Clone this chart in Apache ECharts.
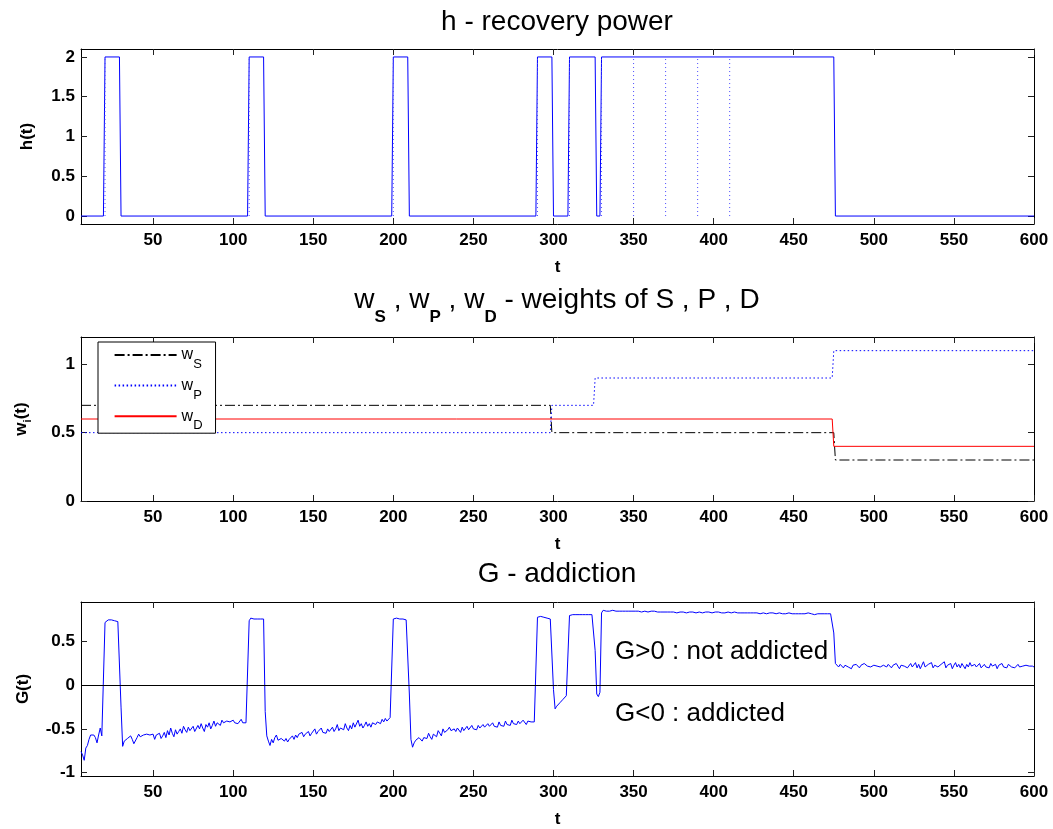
<!DOCTYPE html>
<html><head><meta charset="utf-8">
<script src="https://cdn.jsdelivr.net/npm/echarts@6/dist/echarts.min.js"></script>
<style>html,body{margin:0;padding:0;background:#fff}#c{width:1053px;height:829px}</style>
</head><body><div id="c"></div>
<script>
// ---------- data ----------
const xTicks = [50,100,150,200,250,300,350,400,450,500,550,600];
const hTicks = [0,0.5,1,1.5,2];
const wTicks = [0,0.5,1];
const gTicks = [-1,-0.5,0,0.5];

// h(t) recovery power (step points)
const hT = [5,19,20,29,30,109,110,119,120,199,200,209,210,289,290,299,300,309,310,326,327,329,330,475,476,600];
const hV = [0,0,2,2,0,0,2,2,0,0,2,2,0,0,2,2,0,0,2,2,0,0,2,2,0,0];
// dotted event markers
const eventT = [20,110,200,290,310,330,350,370,390,410];
const eventLow = 0, eventHigh = 2;

// weights
const wsT = [5,298,299,475,476,600];
const wsV = [0.7,0.7,0.5,0.5,0.3,0.3];
const wpT = [5,298,299,325,326,474,475,600];
const wpV = [0.5,0.5,0.7,0.7,0.9,0.9,1.1,1.1];
const wdT = [5,474,475,600];
const wdV = [0.6,0.6,0.4,0.4];

// G(t) addiction, one value per t = 5..600
const gStart = 5;
const gV = [
 -0.76,-0.80,-0.86,-0.72,-0.69,                               // 5-9
 -0.62,-0.57,-0.58,-0.57,-0.60,-0.66,-0.57,-0.49,-0.58,-0.56, // 10
 0.72,0.74,0.75,0.75,0.75,0.75,0.74,0.74,0.73,0.73,           // 20
 -0.25,-0.70,-0.64,-0.66,-0.61,-0.63,-0.58,-0.62,-0.67,-0.69, // 30
 -0.60,-0.56,-0.59,-0.57,-0.57,-0.58,-0.56,-0.57,-0.57,-0.58, // 40
 -0.56,-0.62,-0.57,-0.59,-0.55,-0.61,-0.58,-0.54,-0.60,-0.52, // 50
 -0.57,-0.49,-0.55,-0.59,-0.51,-0.56,-0.53,-0.50,-0.55,-0.47, // 60
 -0.51,-0.54,-0.48,-0.52,-0.50,-0.47,-0.53,-0.55,-0.46,-0.50, // 70
 -0.44,-0.49,-0.53,-0.45,-0.48,-0.43,-0.50,-0.46,-0.41,-0.47, // 80
 -0.43,-0.42,-0.46,-0.40,-0.43,-0.45,-0.41,-0.43,-0.42,-0.44, // 90
 -0.40,-0.43,-0.41,-0.44,-0.42,-0.39,-0.43,-0.44,-0.43,-0.42, // 100
 0.74,0.77,0.77,0.76,0.76,0.76,0.76,0.76,0.76,0.76,           // 110
 -0.30,-0.58,-0.64,-0.69,-0.62,-0.66,-0.60,-0.57,-0.63,-0.64, // 120
 -0.61,-0.59,-0.64,-0.61,-0.65,-0.62,-0.60,-0.58,-0.62,-0.57, // 130
 -0.60,-0.56,-0.58,-0.54,-0.59,-0.56,-0.58,-0.53,-0.58,-0.55, // 140
 -0.57,-0.50,-0.56,-0.53,-0.55,-0.49,-0.54,-0.52,-0.55,-0.50, // 150
 -0.53,-0.51,-0.48,-0.53,-0.50,-0.45,-0.52,-0.49,-0.47,-0.51, // 160
 -0.44,-0.49,-0.52,-0.46,-0.50,-0.43,-0.48,-0.50,-0.40,-0.47, // 170
 -0.44,-0.49,-0.46,-0.42,-0.47,-0.44,-0.48,-0.43,-0.41,-0.45, // 180
 -0.42,-0.40,-0.44,-0.39,-0.42,-0.38,-0.41,-0.43,-0.37,-0.38, // 190
 0.76,0.77,0.77,0.77,0.76,0.77,0.76,0.76,0.75,0.75,           // 200
 -0.10,-0.62,-0.71,-0.66,-0.63,-0.65,-0.60,-0.62,-0.64,-0.60, // 210
 -0.58,-0.61,-0.55,-0.59,-0.62,-0.56,-0.54,-0.59,-0.52,-0.55, // 220
 -0.58,-0.50,-0.54,-0.56,-0.51,-0.48,-0.52,-0.54,-0.50,-0.53, // 230
 -0.49,-0.51,-0.54,-0.48,-0.52,-0.50,-0.47,-0.51,-0.49,-0.46, // 240
 -0.50,-0.48,-0.51,-0.46,-0.49,-0.50,-0.45,-0.48,-0.50,-0.44, // 250
 -0.47,-0.49,-0.43,-0.47,-0.45,-0.48,-0.42,-0.46,-0.44,-0.47, // 260
 -0.41,-0.45,-0.43,-0.46,-0.40,-0.44,-0.42,-0.45,-0.41,-0.44, // 270
 -0.43,-0.40,-0.42,-0.45,-0.41,-0.43,-0.42,-0.44,-0.42,-0.41, // 280
 0.78,0.79,0.79,0.78,0.78,0.77,0.77,0.76,0.76,0.75,           // 290
 -0.05,-0.27,-0.24,-0.22,-0.20,-0.19,-0.16,-0.15,-0.12,-0.12, // 300
 0.80,0.81,0.81,0.82,0.81,0.81,0.81,0.80,0.81,0.81,           // 310
 0.81,0.80,0.81,0.80,0.81,0.80,0.40,-0.10,-0.13,-0.08,        // 320
 0.83,0.86,0.86,0.85,0.86,0.85,0.85,0.86,0.85,0.85,           // 330
 0.86,0.85,0.85,0.85,0.86,0.85,0.85,0.85,0.84,0.85,           // 340
 0.85,0.85,0.84,0.85,0.85,0.84,0.85,0.85,0.85,0.84,           // 350
 0.85,0.85,0.84,0.85,0.84,0.84,0.85,0.84,0.84,0.84,           // 360
 0.85,0.84,0.84,0.84,0.85,0.84,0.84,0.83,0.84,0.84,           // 370
 0.84,0.84,0.84,0.83,0.84,0.84,0.85,0.84,0.84,0.83,           // 380
 0.84,0.84,0.84,0.83,0.84,0.84,0.83,0.84,0.84,0.83,           // 390
 0.84,0.84,0.83,0.84,0.83,0.83,0.84,0.83,0.83,0.84,           // 400
 0.83,0.83,0.83,0.84,0.83,0.83,0.82,0.83,0.83,0.83,           // 410
 0.84,0.83,0.83,0.83,0.82,0.83,0.83,0.83,0.83,0.82,           // 420
 0.83,0.83,0.83,0.82,0.83,0.83,0.82,0.83,0.83,0.82,           // 430
 0.83,0.83,0.83,0.82,0.83,0.82,0.82,0.83,0.82,0.82,           // 440
 0.83,0.82,0.82,0.82,0.83,0.82,0.82,0.82,0.82,0.83,           // 450
 0.82,0.82,0.82,0.81,0.82,0.82,0.82,0.82,0.83,0.82,           // 460
 0.82,0.82,0.82,0.82,0.82,0.60,0.25,0.23,0.21,0.24,           // 470
 0.22,0.20,0.23,0.25,0.21,0.22,0.19,0.23,0.21,0.24,           // 480
 0.22,0.20,0.23,0.21,0.25,0.27,0.22,0.23,0.21,0.20,           // 490
 0.23,0.21,0.22,0.24,0.21,0.20,0.23,0.22,0.21,0.24,           // 500
 0.22,0.20,0.23,0.21,0.25,0.22,0.19,0.23,0.21,0.22,           // 510
 0.24,0.20,0.22,0.25,0.21,0.23,0.26,0.20,0.24,0.19,           // 520
 0.23,0.27,0.21,0.19,0.24,0.22,0.26,0.20,0.23,0.25,           // 530
 0.21,0.19,0.24,0.22,0.27,0.20,0.23,0.21,0.25,0.19,           // 540
 0.23,0.26,0.21,0.24,0.20,0.25,0.22,0.19,0.24,0.21,           // 550
 0.26,0.22,0.20,0.24,0.21,0.23,0.25,0.20,0.22,0.24,           // 560
 0.21,0.23,0.20,0.25,0.22,0.21,0.24,0.19,0.23,0.22,           // 570
 0.25,0.21,0.23,0.20,0.24,0.22,0.21,0.23,0.20,0.22,           // 580
 0.24,0.21,0.23,0.22,0.20,0.23,0.21,0.22,0.24,0.22,           // 590
 0.21                                                          // 600
];

// ---------- chart ----------
const FONT = '"Liberation Sans", Arial, Helvetica, sans-serif';
const xMin = 5, xMax = 600;
const tickColor = '#222';
const BLUE = '#0000ff';
const lblStyle = {color:'#000', fontSize:17, fontWeight:'bold', fontFamily:FONT};

function makeX(gi, pos) {
  const bottom = pos === 'bottom';
  return {
    type:'value', gridIndex:gi, position:pos, min:xMin, max:xMax,
    axisLine:{show:true, onZero:false, lineStyle:{color:'#000', width:1}},
    axisTick:{show:true, inside:true, length:6, customValues:xTicks, lineStyle:{color:tickColor, width:1}},
    axisLabel:Object.assign({show:bottom, customValues:xTicks, margin:8}, lblStyle),
    splitLine:{show:false},
    name: bottom ? 't' : '', nameLocation:'middle', nameGap:35,
    nameTextStyle: lblStyle
  };
}
function makeY(gi, pos, min, max, ticks, name, gap, rich) {
  const left = pos === 'left';
  const nts = Object.assign({}, lblStyle);
  if (rich) nts.rich = rich;
  return {
    type:'value', gridIndex:gi, position:pos, min:min, max:max,
    axisLine:{show:true, onZero:false, lineStyle:{color:'#000', width:1}},
    axisTick:{show:true, inside:true, length:6, customValues:ticks, lineStyle:{color:tickColor, width:1}},
    axisLabel:Object.assign({show:left, customValues:ticks, margin:6}, lblStyle),
    splitLine:{show:false},
    name: left ? name : '', nameLocation:'middle', nameGap:gap,
    nameTextStyle: nts
  };
}
const pairs = (ts, vs) => ts.map((t, i) => [t, vs[i]]);
const eventData = [];
eventT.forEach(t => { eventData.push([t, eventLow], [t, eventHigh], [t, '-']); });
const gData = gV.map((v, i) => [gStart + i, v]);

const chart = echarts.init(document.getElementById('c'), null, {renderer:'canvas'});
chart.setOption({
  animation:false,
  backgroundColor:'#fff',
  grid:[
    {left:81, top:49, width:953, height:175},
    {left:81, top:337, width:953, height:164},
    {left:81, top:602, width:953, height:176}
  ],
  xAxis:[makeX(0,'bottom'), makeX(1,'bottom'), makeX(2,'bottom'), makeX(0,'top'), makeX(1,'top'), makeX(2,'top')],
  yAxis:[
    makeY(0,'left',-0.1,2.1,hTicks,'h(t)',45),
    makeY(1,'left',0,1.2,wTicks,'{a|w}{s|i}{a|(t)}',48,{
      a:{fontSize:17, fontWeight:'bold', fontFamily:FONT, color:'#000'},
      s:{fontSize:11, fontWeight:'bold', fontFamily:FONT, color:'#000', padding:[12,0,0,0]}}),
    makeY(2,'left',-1.04,0.955,gTicks,'G(t)',49),
    makeY(0,'right',-0.1,2.1,hTicks,'',0),
    makeY(1,'right',0,1.2,wTicks,'',0),
    makeY(2,'right',-1.04,0.955,gTicks,'',0)
  ],
  legend:{
    data:['wS','wP','wD'], orient:'vertical', left:98, top:342,
    itemWidth:62, itemHeight:14, itemGap:6.6, padding:[5,13,1,15.6],
    borderColor:'#000', borderWidth:1, backgroundColor:'#fff', selectedMode:false,
    itemStyle:{opacity:0},
    formatter: n => '{w|w}{s|' + n.slice(1) + '}',
    textStyle:{color:'#000', rich:{
      w:{fontSize:16, fontFamily:FONT, color:'#000'},
      s:{fontSize:13, fontFamily:FONT, color:'#000', padding:[19,0,0,0]}}}
  },
  graphic:[
    {type:'text', x:557, y:22, style:{text:'h - recovery power', fontSize:28, fontFamily:FONT, fill:'#000', align:'center', verticalAlign:'middle', textAlign:'center', textVerticalAlign:'middle'}},
    {type:'text', x:557, y:300, style:{text:'{a|w}{s|S}{a| , w}{s|P}{a| , w}{s|D}{a| - weights of S , P , D}', fill:'#000', align:'center', verticalAlign:'middle', textAlign:'center', textVerticalAlign:'middle',
      rich:{a:{fontSize:28, fontFamily:FONT, fill:'#000'}, s:{fontSize:17, fontWeight:'bold', fontFamily:FONT, fill:'#000', padding:[34,0,0,0]}}}},
    {type:'text', x:557, y:574, style:{text:'G - addiction', fontSize:28, fontFamily:FONT, fill:'#000', align:'center', verticalAlign:'middle', textAlign:'center', textVerticalAlign:'middle'}},
    {type:'text', x:615, y:652, z:50, style:{text:'G>0 : not addicted', fontSize:26, fontFamily:FONT, fill:'#000', align:'left', verticalAlign:'middle', textAlign:'left', textVerticalAlign:'middle'}},
    {type:'text', x:615, y:714, z:50, style:{text:'G<0 : addicted', fontSize:26, fontFamily:FONT, fill:'#000', align:'left', verticalAlign:'middle', textAlign:'left', textVerticalAlign:'middle'}}
  ],
  series:[
    {name:'h', type:'line', xAxisIndex:0, yAxisIndex:0, data:pairs(hT,hV), symbol:'none', silent:true,
      color:BLUE, itemStyle:{color:BLUE}, lineStyle:{color:BLUE, width:1}},
    {name:'events', type:'line', xAxisIndex:0, yAxisIndex:0, data:eventData, symbol:'none', silent:true, connectNulls:false,
      color:'#4a4aff', itemStyle:{color:'#4a4aff'}, lineStyle:{color:'#4a4aff', width:1, type:[1,3]}},
    {name:'wS', type:'line', xAxisIndex:1, yAxisIndex:1, data:pairs(wsT,wsV), symbol:'none', silent:true,
      color:'#000', itemStyle:{color:'#000'}, lineStyle:{color:'#000', width:1, type:[10,3,2,3]}},
    {name:'wP', type:'line', xAxisIndex:1, yAxisIndex:1, data:pairs(wpT,wpV), symbol:'none', silent:true,
      color:BLUE, itemStyle:{color:BLUE}, lineStyle:{color:BLUE, width:1, type:[1.5,2.5]}},
    {name:'wD', type:'line', xAxisIndex:1, yAxisIndex:1, data:pairs(wdT,wdV), symbol:'none', silent:true,
      color:'#ff0000', itemStyle:{color:'#ff0000'}, lineStyle:{color:'#ff0000', width:1}},
    {name:'G', type:'line', xAxisIndex:2, yAxisIndex:2, data:gData, symbol:'none', silent:true,
      color:BLUE, itemStyle:{color:BLUE}, lineStyle:{color:BLUE, width:1},
      markLine:{silent:true, symbol:['none','none'], label:{show:false}, animation:false,
        lineStyle:{color:'#000', type:'solid', width:1}, data:[{yAxis:0}]}}
  ]
});
</script></body></html>
